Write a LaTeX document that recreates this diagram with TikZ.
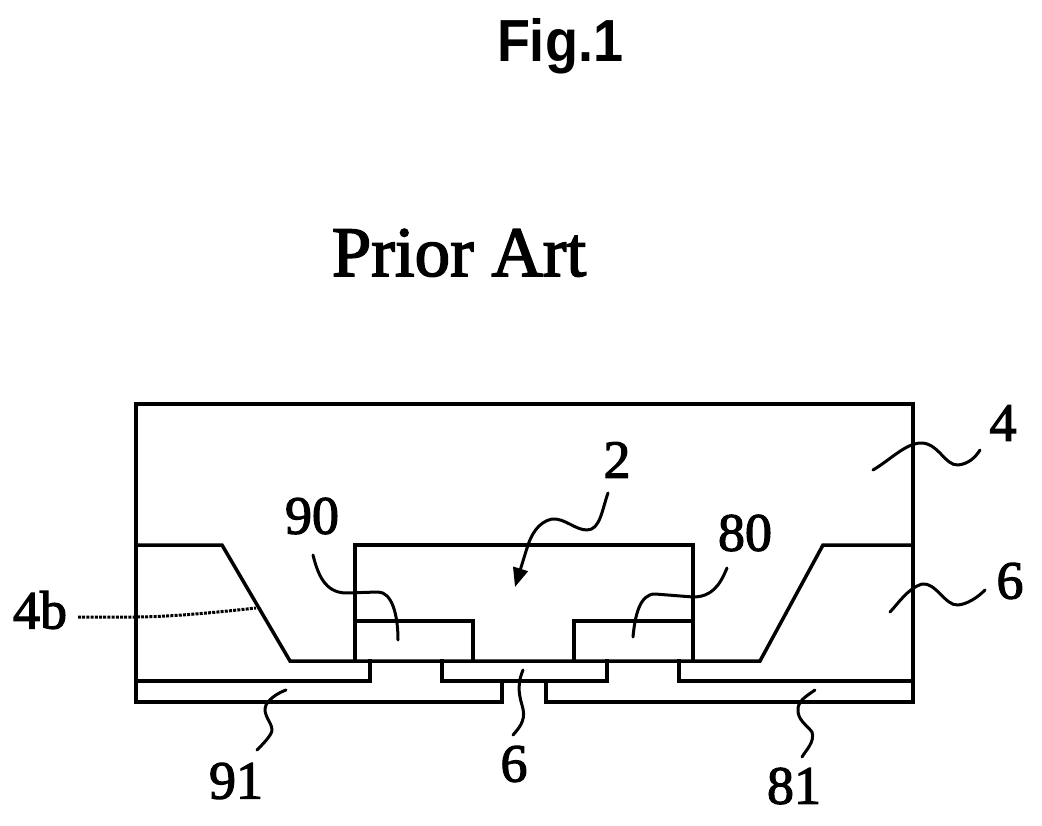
\documentclass[tikz,border=0pt]{standalone}
\usepackage{fontspec}
\setmainfont{Liberation Serif}
\setsansfont{Liberation Sans}
\newfontfamily\heavyserif[FakeBold=2.2]{Liberation Serif}
\usetikzlibrary{arrows.meta}
\tikzset{
 body/.style={line width=3.5pt,black,line join=miter,line cap=rect},
 lead/.style={line width=3pt,black,line cap=round,line join=round},
 lab/.style={font=\heavyserif\fontsize{54}{54}\selectfont,inner sep=0pt,text=black},
}
\begin{document}
\begin{tikzpicture}[x=1pt,y=-1pt]
\useasboundingbox (0,0) rectangle (1042,826);
\node[font=\sffamily\bfseries\fontsize{54}{54}\selectfont,inner sep=0pt,anchor=base] (title) at (560,62) {\scalebox{1}[1.1]{Fig.1}};
\node[font=\heavyserif\fontsize{71}{71}\selectfont,inner sep=0pt,anchor=base] (prior) at (459,276) {Prior Art};
% package
\draw[body] (136,681) -- (136,404) -- (913,404) -- (913,681);
\draw[body] (136,545) -- (222,545) -- (290,661) -- (760,661) -- (823,545) -- (913,545);
\draw[body] (355,661) -- (355,545) -- (693,545) -- (693,661);
\draw[body] (355,621) -- (473,621) -- (473,661);
\draw[body] (693,621) -- (574,621) -- (574,661);
\draw[body] (136,681) -- (370,681) -- (370,661);
\draw[body] (442,661) -- (442,681) -- (607,681) -- (607,661);
\draw[body] (679,661) -- (679,681) -- (913,681);
\draw[body] (502,681) -- (502,702) -- (136,702) -- (136,681);
\draw[body] (546,681) -- (546,702) -- (913,702) -- (913,681);
% labels
\node[lab] (l4) at (1003,423) {4};
\node[lab] (l6r) at (1010,581) {6};
\node[lab] (l4b) at (40,610) {4b};
\node[lab] (l90) at (312,516) {90};
\node[lab] (l2) at (617,460) {2};
\node[lab] (l80) at (745,533) {80};
\node[lab] (l91) at (236,781) {91};
\node[lab] (l6b) at (514,764) {6};
\node[lab] (l81) at (794,786) {81};
% leaders
\coordinate (a4) at (873,470);
\coordinate (e4) at (980,450);
\coordinate (a6) at (890,612);
\coordinate (e6) at (985,590);
\coordinate (e4b) at (78,617);
\coordinate (a4b) at (256,608);
\coordinate (e90) at (313,555);
\coordinate (a90) at (398,640);
\coordinate (e80) at (727,568);
\coordinate (a80) at (633,637);
\coordinate (e91) at (257,750);
\coordinate (a91) at (286,690);
\coordinate (e6b) at (513,735);
\coordinate (a6b) at (523,670);
\coordinate (e81) at (802,757);
\coordinate (a81) at (815,690);
\coordinate (e2) at (608,493);
\coordinate (a2) at (515,587);
\draw[lead] (a4) .. controls (890,460) and (905,444) .. (920,443) .. controls (938,442) and (945,466) .. (958,465) .. controls (968,464) and (975,458) .. (e4);
\draw[lead] (a6) .. controls (897,605) and (908,588) .. (922,584) .. controls (936,582) and (945,606) .. (958,605) .. controls (968,604) and (978,597) .. (e6);
\draw[line width=3pt,black,line cap=butt,dash pattern=on 3pt off 1.2pt] (e4b) -- (135,617) .. controls (170,617) and (220,612) .. (a4b);
\draw[lead] (e90) .. controls (318,575) and (325,592) .. (345,593) -- (378,592) .. controls (392,592) and (398,615) .. (a90);
\draw[lead] (e80) .. controls (720,585) and (712,597) .. (693,597) -- (655,594) .. controls (640,594) and (635,615) .. (a80);
\draw[lead] (e91) .. controls (262,745) and (272,735) .. (272,730) .. controls (272,722) and (262,715) .. (266,705) .. controls (270,698) and (278,693) .. (a91);
\draw[lead] (e6b) .. controls (522,725) and (526,718) .. (522,705) .. controls (518,692) and (518,682) .. (a6b);
\draw[lead] (e81) .. controls (806,750) and (815,742) .. (812,732) .. controls (806,724) and (797,720) .. (798,708) .. controls (799,700) and (808,695) .. (a81);
\draw[lead,-{Triangle[length=19pt,width=15pt]}] (e2) .. controls (602,510) and (600,530) .. (587,530) .. controls (575,530) and (565,518) .. (552,519) .. controls (538,522) and (531,535) .. (527,548) -- (a2);
\end{tikzpicture}
\end{document}
